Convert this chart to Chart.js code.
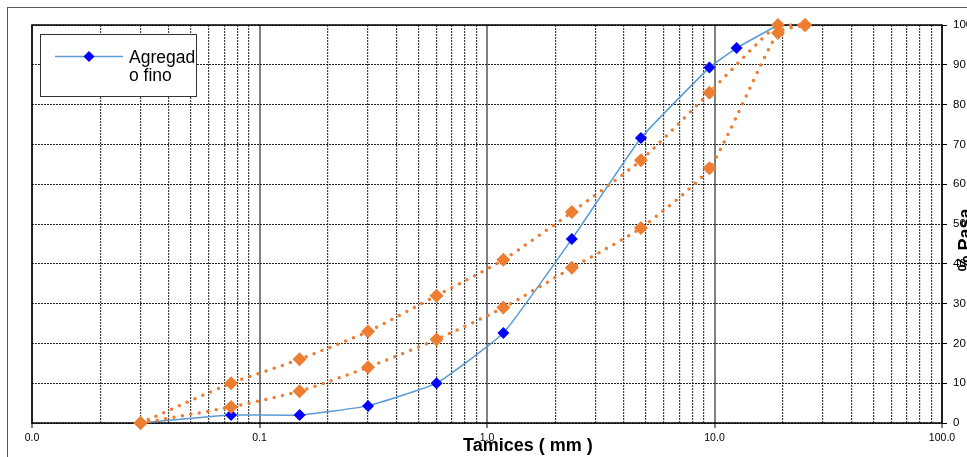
<!DOCTYPE html>
<html>
<head>
<meta charset="utf-8">
<script src="https://cdn.jsdelivr.net/npm/chart.js@4/dist/chart.umd.min.js"></script>
<style>
  html, body { margin: 0; padding: 0; background: #fff; }
</style>
</head>
<body>
<canvas id="granChart" width="967" height="457"></canvas>
<script>
// sieve openings (mm) and % passing
const sieveSizes = [0.03, 0.075, 0.15, 0.3, 0.6, 1.18, 2.36, 4.75, 9.5, 12.5, 19];
const finePass   = [0, 2, 2, 4.3, 10, 22.6, 46.2, 71.6, 89.3, 94.2, 100];

// limit curves (orange dotted)
const limitSizes = [0.03, 0.075, 0.15, 0.3, 0.6, 1.18, 2.36, 4.75, 9.5, 19, 25];
const upperLimit = [0, 10, 16, 23, 32, 41, 53, 66, 83, 100, 100];
const lowerLimit = [0, 4, 8, 14, 21, 29, 39, 49, 64, 98, 100];

const xDecades = [0.01, 0.1, 1, 10, 100];
const yTickValues = [0, 10, 20, 30, 40, 50, 60, 70, 80, 90, 100];
const legendLines = ["Agregad", "o fino"];
const xTitle = "Tamices ( mm )";
const yTitle = "% Pasa";

const FONT = "'Liberation Sans', Arial, sans-serif";
const ORANGE = "#ED7D31";

function isDecade(v) {
    return xDecades.some(d => Math.abs(d - v) / d < 1e-6);
}

// grid positions: 1..9 within each decade
let gridValues = [];
for (let i = 0; i < xDecades.length - 1; i++) {
    for (let k = 1; k <= 9; k++) {
        gridValues.push(+(xDecades[i] * k).toPrecision(3));
    }
}
gridValues.push(xDecades[xDecades.length - 1]);

function toPoints(xs, ys) {
    return xs.map((x, i) => ({x: x, y: ys[i]}));
}

const framePlugin = {
    id: "frame",
    beforeDatasetsDraw(chart) {
        const {ctx, chartArea: a} = chart;
        ctx.save();
        ctx.strokeStyle = "#000";
        ctx.lineWidth = 1.5;
        ctx.strokeRect(a.left, a.top, a.right - a.left, a.bottom - a.top);
        ctx.restore();
    },
    afterDraw(chart) {
        const {ctx, chartArea: a} = chart;
        ctx.save();
        // outer chart border
        ctx.strokeStyle = "#595959";
        ctx.lineWidth = 1;
        ctx.strokeRect(7.5, 7.5, 1000, 500);

        // axis titles
        ctx.fillStyle = "#000";
        ctx.font = "bold 18px " + FONT;
        ctx.textAlign = "center";
        ctx.textBaseline = "alphabetic";
        ctx.fillText(xTitle, a.left + (a.right - a.left) * 0.545, 451);

        ctx.save();
        ctx.translate(970.5, 240);
        ctx.rotate(-Math.PI / 2);
        ctx.fillText(yTitle, 0, 0);
        ctx.restore();

        // legend box
        ctx.fillStyle = "#fff";
        ctx.fillRect(40.5, 34.5, 156, 62);
        ctx.strokeStyle = "#333";
        ctx.lineWidth = 1;
        ctx.strokeRect(40.5, 34.5, 156, 62);
        ctx.strokeStyle = "#5B9BD5";
        ctx.lineWidth = 1.5;
        ctx.beginPath();
        ctx.moveTo(55, 56.5);
        ctx.lineTo(123, 56.5);
        ctx.stroke();
        ctx.fillStyle = "#0000FF";
        ctx.beginPath();
        ctx.moveTo(89, 51);
        ctx.lineTo(94.5, 56.5);
        ctx.lineTo(89, 62);
        ctx.lineTo(83.5, 56.5);
        ctx.closePath();
        ctx.fill();
        ctx.fillStyle = "#000";
        ctx.font = "17.5px " + FONT;
        ctx.textAlign = "left";
        ctx.fillText(legendLines[0], 129, 63);
        ctx.fillText(legendLines[1], 129, 81);
        ctx.restore();
    }
};

const canvas = document.getElementById("granChart");
const ctx = canvas.getContext("2d");

var chart = new Chart(ctx, {
    type: "line",
    data: {
        datasets: [
            {
                label: "Límite superior",
                data: toPoints(limitSizes, upperLimit),
                borderColor: ORANGE,
                backgroundColor: ORANGE,
                borderWidth: 3.5,
                borderDash: [0, 8.5],
                borderCapStyle: "round",
                pointStyle: "rectRot",
                pointRadius: 7,
                pointBorderWidth: 0,
                pointBackgroundColor: ORANGE,
                tension: 0.2,
                clip: false,
                order: 1
            },
            {
                label: "Límite inferior",
                data: toPoints(limitSizes, lowerLimit),
                borderColor: ORANGE,
                backgroundColor: ORANGE,
                borderWidth: 3.5,
                borderDash: [0, 8.5],
                borderCapStyle: "round",
                pointStyle: "rectRot",
                pointRadius: 7,
                pointBorderWidth: 0,
                pointBackgroundColor: ORANGE,
                tension: 0.2,
                clip: false,
                order: 1
            },
            {
                label: "Agregado fino",
                data: toPoints(sieveSizes, finePass),
                borderColor: "#5B9BD5",
                backgroundColor: "#0000FF",
                borderWidth: 1.5,
                pointStyle: "rectRot",
                pointRadius: 6,
                pointBorderWidth: 0,
                pointBackgroundColor: "#0000FF",
                tension: 0.12,
                clip: false,
                order: 2
            }
        ]
    },
    options: {
        responsive: false,
        devicePixelRatio: 1,
        animation: false,
        layout: {padding: {left: 32, top: 25, right: 0, bottom: 0}},
        plugins: {
            legend: {display: false},
            tooltip: {enabled: false}
        },
        scales: {
            x: {
                type: "logarithmic",
                min: 0.01,
                max: 100,
                afterBuildTicks: (scale) => {
                    scale.ticks = gridValues.map(v => ({value: v, major: isDecade(v)}));
                },
                afterFit: (scale) => { scale.height = 34; },
                ticks: {
                    autoSkip: false,
                    maxRotation: 0,
                    padding: 4,
                    color: "#000",
                    font: {family: FONT, size: 10.5},
                    callback: (v) => isDecade(v) ? v.toFixed(1) : ""
                },
                grid: {
                    color: (c) => (c.tick && isDecade(c.tick.value)) ? "#808080" : "#444",
                    lineWidth: (c) => (c.tick && isDecade(c.tick.value)) ? 2 : 1.2,
                    tickLength: 5,
                    tickWidth: 1,
                    tickColor: (c) => (c.tick && isDecade(c.tick.value)) ? "#000" : "rgba(0,0,0,0)"
                },
                border: {
                    display: false,
                    dash: (c) => (c.tick && isDecade(c.tick.value)) ? [] : [2, 1]
                }
            },
            y: {
                position: "right",
                min: 0,
                max: 100,
                afterBuildTicks: (scale) => {
                    scale.ticks = yTickValues.map(v => ({value: v}));
                },
                afterFit: (scale) => { scale.width = 25; },
                ticks: {
                    padding: 6,
                    color: "#000",
                    font: {family: FONT, size: 11.5}
                },
                grid: {
                    color: "#222",
                    lineWidth: 1,
                    tickLength: 5,
                    tickColor: "#000"
                },
                border: {
                    display: false,
                    dash: [2, 1]
                }
            }
        }
    },
    plugins: [framePlugin]
});
</script>
</body>
</html>
